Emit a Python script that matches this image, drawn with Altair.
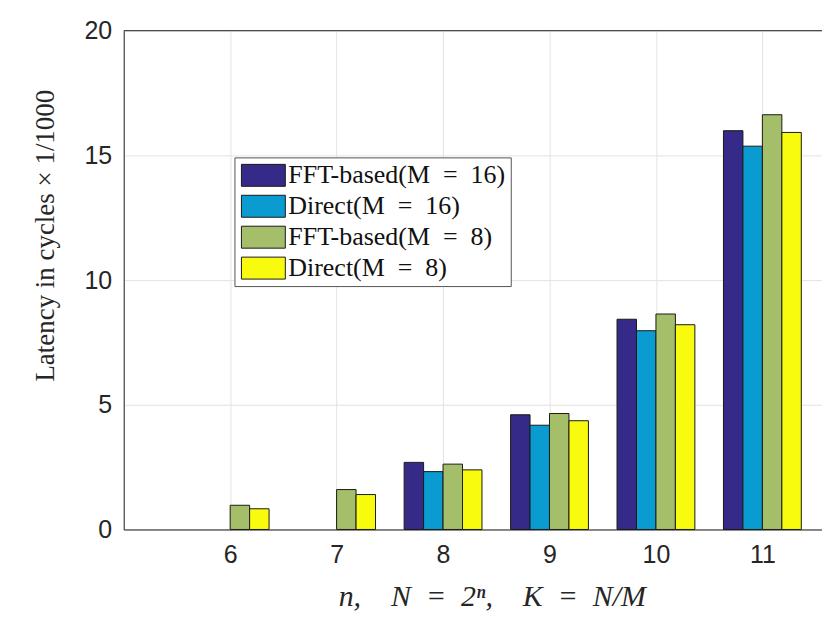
import altair as alt
import pandas as pd

ns = [6, 7, 8, 9, 10, 11]
series = ["FFT-based(M\u2002=\u200216)", "Direct(M\u2002=\u200216)",
          "FFT-based(M\u2002=\u20028)", "Direct(M\u2002=\u20028)"]
colors = ["#352a87", "#0a9bd0", "#a5be6a", "#f9fb0e"]
fft16 = [0, 0, 2.69, 4.60, 8.43, 15.99]
dir16 = [0, 0, 2.32, 4.18, 7.97, 15.37]
fft8 = [0.97, 1.60, 2.62, 4.65, 8.64, 16.63]
dir8 = [0.83, 1.40, 2.39, 4.36, 8.21, 15.92]
x_ticks = [6, 7, 8, 9, 10, 11]
y_ticks = [0, 5, 10, 15, 20]

rows = []
for i, (name, vals) in enumerate(zip(series, [fft16, dir16, fft8, dir8])):
    for n, v in zip(ns, vals):
        rows.append({"n": n, "series": name, "idx": i, "value": v})
df = pd.DataFrame(rows)

bw = 0.1828

base = alt.Chart(df).transform_filter("datum.value > 0").transform_calculate(
    x0=f"datum.n + (datum.idx - 2) * {bw}",
    x1=f"datum.n + (datum.idx - 1) * {bw}",
)

bars = base.mark_bar(stroke="#1a1a1a", strokeWidth=1, opacity=1).encode(
    x=alt.X(
        "x0:Q",
        scale=alt.Scale(domain=[5, 11.56], nice=False, zero=False),
        axis=alt.Axis(
            values=x_ticks,
            grid=True,
            gridColor="#e3e3e3",
            domainColor="#262626",
            tickSize=0,
            labelFont="Liberation Sans",
            labelFontSize=25,
            labelColor="#262626",
            labelPadding=13,
            title="n,\u2003N\u2002=\u20022ⁿ,\u2003K\u2002=\u2002N/M",
            titleFont="Liberation Serif",
            titleFontStyle="italic",
            titleFontWeight="normal",
            titleFontSize=30,
            titleColor="#262626",
            titlePadding=14,
            titleX=369,
        ),
    ),
    x2="x1:Q",
    y=alt.Y(
        "value:Q",
        scale=alt.Scale(domain=[0, 20], nice=False),
        axis=alt.Axis(
            values=y_ticks,
            grid=True,
            gridColor="#e3e3e3",
            domainColor="#262626",
            tickSize=0,
            labelFont="Liberation Sans",
            labelFontSize=25,
            labelColor="#262626",
            labelPadding=12,
            title="Latency in cycles × 1/1000",
            titleFont="Liberation Serif",
            titleFontWeight="normal",
            titleFontSize=27,
            titleColor="#262626",
            titleAngle=270,
            titleX=-78,
            titleY=205,
            titleAlign="center",
            titleBaseline="middle",
        ),
    ),
    y2=alt.datum(0),
    color=alt.Color(
        "series:N",
        scale=alt.Scale(domain=series, range=colors),
        legend=alt.Legend(
            orient="none",
            legendX=111,
            legendY=127,
            title=None,
            padding=5,
            rowPadding=5,
            strokeColor="#555555",
            fillColor="white",
            symbolType="M-2,-1H2V1H-2Z",
            symbolSize=484,
            symbolOffset=11,
            symbolStrokeColor="#1a1a1a",
            symbolStrokeWidth=1,
            symbolOpacity=1,
            labelFont="Liberation Serif",
            labelFontSize=26,
            labelColor="#111111",
            labelLimit=0,
            labelOffset=12,
            offset=0,
        ),
    ),
)

top = alt.Chart(pd.DataFrame({"y": [20]})).mark_rule(color="#262626", strokeWidth=1).encode(
    y=alt.Y("y:Q", scale=alt.Scale(domain=[0, 20], nice=False)),
    x=alt.value(0),
    x2=alt.value(700),
)

chart = alt.layer(bars, top).properties(
    width=700,
    height=500,
    padding={"left": 116, "top": 22, "right": 0, "bottom": 90},
    autosize=alt.AutoSizeParams(type="none"),
).configure_view(stroke=None).configure(background="white")

chart.save("out.html", embed_options={"renderer": "svg", "actions": False})
